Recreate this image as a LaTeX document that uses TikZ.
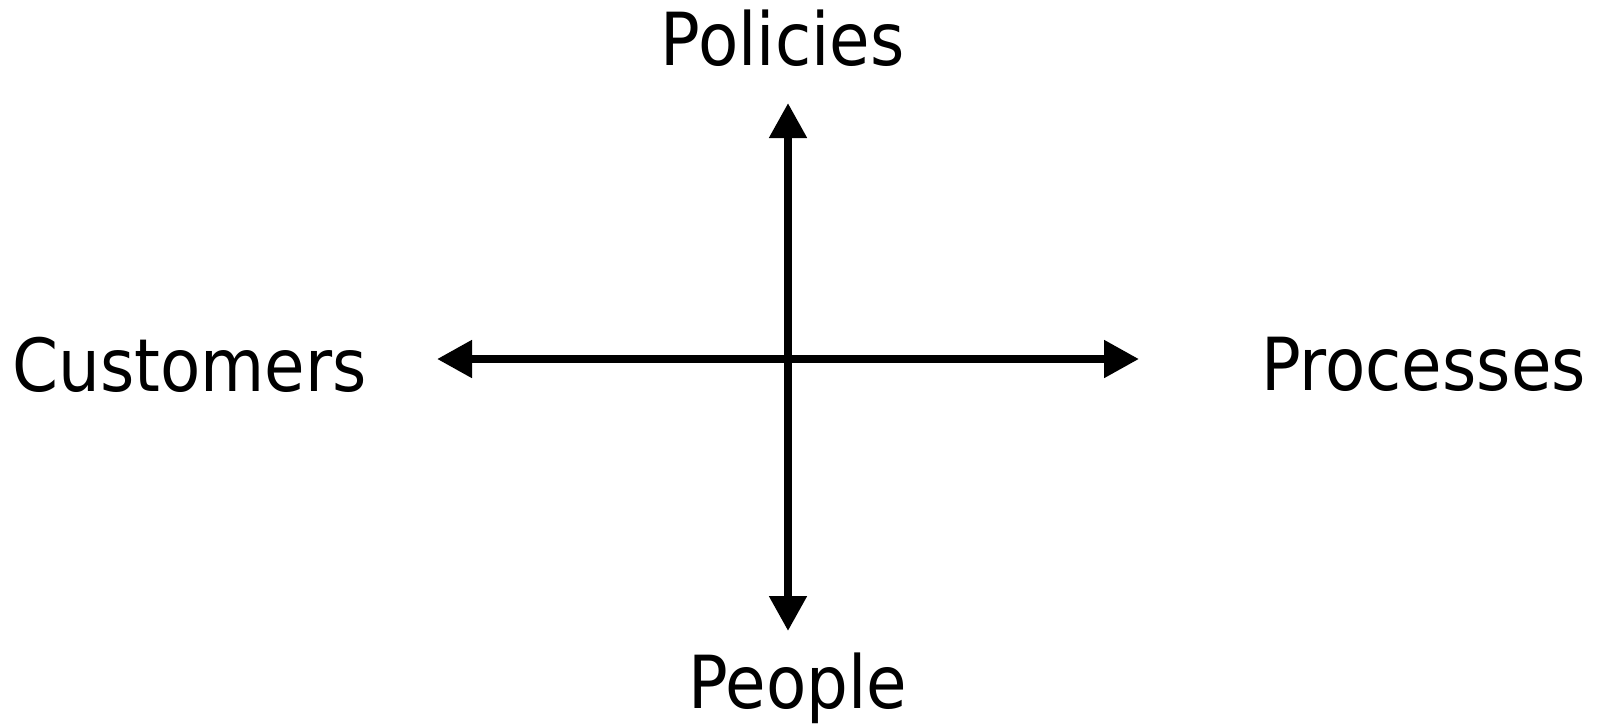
\documentclass[tikz,border=0pt]{standalone}
\usepackage{fontspec}
\setmainfont{DejaVu Sans}
\usetikzlibrary{arrows.meta}
\tikzset{
  lbl/.style={anchor=base, inner sep=0pt, font=\fontsize{36.6pt}{40pt}\selectfont},
  axis/.style={line width=4pt, {Triangle[length=17.5pt,width=18pt]}-{Triangle[length=17.5pt,width=18pt]}}
}
\newcommand{\sq}[1]{\scalebox{0.9}[1]{#1}}
\begin{document}
\begin{tikzpicture}[x=0.5pt,y=-0.5pt]
\useasboundingbox (0,0) rectangle (1598,725);
\coordinate (top) at (788,103);
\coordinate (bot) at (788,631);
\coordinate (lft) at (437,359);
\coordinate (rgt) at (1139,359);
\node[lbl] (pol) at (782.5,65) {\sq{Policies}};
\node[lbl] (peo) at (797.5,708) {\sq{People}};
\node[lbl] (cus) at (189.5,391) {\sq{Customers}};
\node[lbl] (pro) at (1423.5,390) {\sq{Processes}};
\draw[axis] (bot) -- (top);
\draw[axis] (lft) -- (rgt);
\end{tikzpicture}
\end{document}
